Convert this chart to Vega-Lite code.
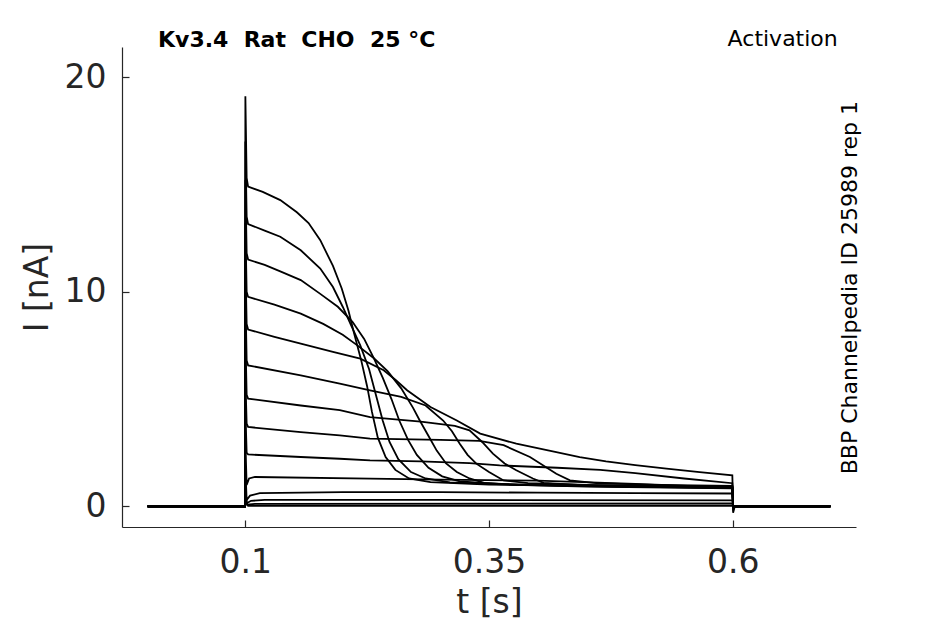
{
  "$schema": "https://vega.github.io/schema/vega-lite/v6.json",
  "width": 734,
  "height": 480,
  "autosize": {"type": "none"},
  "padding": {"left": 122, "top": 47, "right": 89, "bottom": 97},
  "background": "white",
  "config": {"view": {"stroke": null}, "font": "DejaVu Sans"},
  "title": {
    "text": "Kv3.4\u00a0\u00a0Rat\u00a0\u00a0CHO\u00a0\u00a025\u00a0°C",
    "anchor": "start",
    "frame": "group",
    "dx": 36,
    "dy": 43,
    "offset": 2,
    "fontSize": 22,
    "fontWeight": "bold",
    "font": "DejaVu Sans",
    "color": "black",
    "baseline": "alphabetic"
  },
  "layer": [
    {
      "data": {
        "values": [
          {"k": 1, "t": 0, "i": 0}, {"k": 1, "t": 0.0998, "i": 0}, {"k": 1, "t": 0.1002, "i": 19.1}, {"k": 1, "t": 0.1015, "i": 15.3},
          {"k": 1, "t": 0.103, "i": 14.9}, {"k": 1, "t": 0.118, "i": 14.65}, {"k": 1, "t": 0.136, "i": 14.27}, {"k": 1, "t": 0.153, "i": 13.7},
          {"k": 1, "t": 0.165, "i": 13.2}, {"k": 1, "t": 0.177, "i": 12.4}, {"k": 1, "t": 0.19, "i": 11.2}, {"k": 1, "t": 0.199, "i": 10.15},
          {"k": 1, "t": 0.206, "i": 9.1}, {"k": 1, "t": 0.212, "i": 8.0}, {"k": 1, "t": 0.219, "i": 6.8}, {"k": 1, "t": 0.225, "i": 5.6},
          {"k": 1, "t": 0.23, "i": 4.4}, {"k": 1, "t": 0.236, "i": 3.2}, {"k": 1, "t": 0.244, "i": 2.3}, {"k": 1, "t": 0.254, "i": 1.7},
          {"k": 1, "t": 0.268, "i": 1.3}, {"k": 1, "t": 0.29, "i": 1.13}, {"k": 1, "t": 0.35, "i": 1.02}, {"k": 1, "t": 0.45, "i": 0.95},
          {"k": 1, "t": 0.5995, "i": 0.88}, {"k": 1, "t": 0.6003, "i": -0.3}, {"k": 1, "t": 0.602, "i": 0}, {"k": 1, "t": 0.7, "i": 0},

          {"k": 2, "t": 0, "i": 0}, {"k": 2, "t": 0.0998, "i": 0}, {"k": 2, "t": 0.1002, "i": 17.0}, {"k": 2, "t": 0.1015, "i": 13.5},
          {"k": 2, "t": 0.103, "i": 13.15}, {"k": 2, "t": 0.12, "i": 12.85}, {"k": 2, "t": 0.136, "i": 12.56}, {"k": 2, "t": 0.157, "i": 11.93},
          {"k": 2, "t": 0.177, "i": 11.08}, {"k": 2, "t": 0.19, "i": 10.22}, {"k": 2, "t": 0.2, "i": 9.3}, {"k": 2, "t": 0.209, "i": 8.4},
          {"k": 2, "t": 0.218, "i": 7.5}, {"k": 2, "t": 0.227, "i": 6.4}, {"k": 2, "t": 0.234, "i": 5.2}, {"k": 2, "t": 0.241, "i": 4.0},
          {"k": 2, "t": 0.248, "i": 3.0}, {"k": 2, "t": 0.257, "i": 2.2}, {"k": 2, "t": 0.27, "i": 1.6}, {"k": 2, "t": 0.285, "i": 1.3},
          {"k": 2, "t": 0.31, "i": 1.12}, {"k": 2, "t": 0.38, "i": 1.0}, {"k": 2, "t": 0.5, "i": 0.92}, {"k": 2, "t": 0.5995, "i": 0.86},
          {"k": 2, "t": 0.6003, "i": -0.1}, {"k": 2, "t": 0.602, "i": 0}, {"k": 2, "t": 0.7, "i": 0},

          {"k": 3, "t": 0, "i": 0}, {"k": 3, "t": 0.0998, "i": 0}, {"k": 3, "t": 0.1002, "i": 15.2}, {"k": 3, "t": 0.1015, "i": 11.8},
          {"k": 3, "t": 0.103, "i": 11.5}, {"k": 3, "t": 0.12, "i": 11.25}, {"k": 3, "t": 0.136, "i": 10.95}, {"k": 3, "t": 0.157, "i": 10.54},
          {"k": 3, "t": 0.177, "i": 9.9}, {"k": 3, "t": 0.195, "i": 9.3}, {"k": 3, "t": 0.21, "i": 8.6}, {"k": 3, "t": 0.222, "i": 7.8},
          {"k": 3, "t": 0.232, "i": 6.9}, {"k": 3, "t": 0.241, "i": 6.0}, {"k": 3, "t": 0.25, "i": 5.0}, {"k": 3, "t": 0.258, "i": 4.0},
          {"k": 3, "t": 0.267, "i": 3.1}, {"k": 3, "t": 0.276, "i": 2.4}, {"k": 3, "t": 0.288, "i": 1.8}, {"k": 3, "t": 0.302, "i": 1.4},
          {"k": 3, "t": 0.32, "i": 1.17}, {"k": 3, "t": 0.36, "i": 1.05}, {"k": 3, "t": 0.45, "i": 0.95}, {"k": 3, "t": 0.5995, "i": 0.85},
          {"k": 3, "t": 0.6003, "i": 0}, {"k": 3, "t": 0.7, "i": 0},

          {"k": 4, "t": 0, "i": 0}, {"k": 4, "t": 0.0998, "i": 0}, {"k": 4, "t": 0.1002, "i": 13.2}, {"k": 4, "t": 0.1015, "i": 10.0},
          {"k": 4, "t": 0.103, "i": 9.76}, {"k": 4, "t": 0.13, "i": 9.4}, {"k": 4, "t": 0.157, "i": 8.98}, {"k": 4, "t": 0.18, "i": 8.5},
          {"k": 4, "t": 0.2, "i": 8.0}, {"k": 4, "t": 0.215, "i": 7.5}, {"k": 4, "t": 0.232, "i": 6.9}, {"k": 4, "t": 0.246, "i": 6.3},
          {"k": 4, "t": 0.26, "i": 5.5}, {"k": 4, "t": 0.272, "i": 4.6}, {"k": 4, "t": 0.279, "i": 4.0}, {"k": 4, "t": 0.289, "i": 3.2},
          {"k": 4, "t": 0.2964, "i": 2.6}, {"k": 4, "t": 0.306, "i": 2.0}, {"k": 4, "t": 0.317, "i": 1.6}, {"k": 4, "t": 0.33, "i": 1.3},
          {"k": 4, "t": 0.345, "i": 1.1}, {"k": 4, "t": 0.38, "i": 1.0}, {"k": 4, "t": 0.45, "i": 0.92}, {"k": 4, "t": 0.5995, "i": 0.84},
          {"k": 4, "t": 0.6003, "i": 0}, {"k": 4, "t": 0.7, "i": 0},

          {"k": 5, "t": 0, "i": 0}, {"k": 5, "t": 0.0998, "i": 0}, {"k": 5, "t": 0.1002, "i": 11.5}, {"k": 5, "t": 0.1015, "i": 8.5},
          {"k": 5, "t": 0.103, "i": 8.24}, {"k": 5, "t": 0.13, "i": 7.9}, {"k": 5, "t": 0.157, "i": 7.58}, {"k": 5, "t": 0.19, "i": 7.2},
          {"k": 5, "t": 0.218, "i": 6.88}, {"k": 5, "t": 0.242, "i": 6.34}, {"k": 5, "t": 0.254, "i": 5.9}, {"k": 5, "t": 0.266, "i": 5.41},
          {"k": 5, "t": 0.29, "i": 4.63}, {"k": 5, "t": 0.317, "i": 4.0}, {"k": 5, "t": 0.341, "i": 3.39}, {"k": 5, "t": 0.378, "i": 2.92},
          {"k": 5, "t": 0.419, "i": 2.53}, {"k": 5, "t": 0.443, "i": 2.3}, {"k": 5, "t": 0.47, "i": 2.1}, {"k": 5, "t": 0.5, "i": 1.92},
          {"k": 5, "t": 0.532, "i": 1.76}, {"k": 5, "t": 0.566, "i": 1.6}, {"k": 5, "t": 0.5995, "i": 1.45}, {"k": 5, "t": 0.6003, "i": 0},
          {"k": 5, "t": 0.7, "i": 0},

          {"k": 6, "t": 0, "i": 0}, {"k": 6, "t": 0.0998, "i": 0}, {"k": 6, "t": 0.1002, "i": 10.0}, {"k": 6, "t": 0.1015, "i": 6.8},
          {"k": 6, "t": 0.103, "i": 6.57}, {"k": 6, "t": 0.157, "i": 6.1}, {"k": 6, "t": 0.197, "i": 5.72}, {"k": 6, "t": 0.228, "i": 5.41},
          {"k": 6, "t": 0.26, "i": 5.1}, {"k": 6, "t": 0.285, "i": 4.7}, {"k": 6, "t": 0.303, "i": 4.0}, {"k": 6, "t": 0.312, "i": 3.5},
          {"k": 6, "t": 0.32, "i": 2.92}, {"k": 6, "t": 0.328, "i": 2.4}, {"k": 6, "t": 0.337, "i": 1.99}, {"k": 6, "t": 0.35, "i": 1.6},
          {"k": 6, "t": 0.365, "i": 1.21}, {"k": 6, "t": 0.39, "i": 1.08}, {"k": 6, "t": 0.45, "i": 1.0}, {"k": 6, "t": 0.5995, "i": 0.92},
          {"k": 6, "t": 0.6003, "i": 0}, {"k": 6, "t": 0.7, "i": 0},

          {"k": 7, "t": 0, "i": 0}, {"k": 7, "t": 0.0998, "i": 0}, {"k": 7, "t": 0.1002, "i": 8.0}, {"k": 7, "t": 0.1015, "i": 5.2},
          {"k": 7, "t": 0.103, "i": 5.02}, {"k": 7, "t": 0.157, "i": 4.7}, {"k": 7, "t": 0.197, "i": 4.48}, {"k": 7, "t": 0.228, "i": 4.16},
          {"k": 7, "t": 0.28, "i": 3.95}, {"k": 7, "t": 0.315, "i": 3.75}, {"k": 7, "t": 0.33, "i": 3.54}, {"k": 7, "t": 0.343, "i": 3.0},
          {"k": 7, "t": 0.354, "i": 2.46}, {"k": 7, "t": 0.366, "i": 2.0}, {"k": 7, "t": 0.378, "i": 1.68}, {"k": 7, "t": 0.395, "i": 1.3},
          {"k": 7, "t": 0.406, "i": 1.1}, {"k": 7, "t": 0.45, "i": 0.98}, {"k": 7, "t": 0.5995, "i": 0.92}, {"k": 7, "t": 0.6003, "i": 0},
          {"k": 7, "t": 0.7, "i": 0},

          {"k": 8, "t": 0, "i": 0}, {"k": 8, "t": 0.0998, "i": 0}, {"k": 8, "t": 0.1002, "i": 6.0}, {"k": 8, "t": 0.1015, "i": 3.85},
          {"k": 8, "t": 0.103, "i": 3.7}, {"k": 8, "t": 0.157, "i": 3.46}, {"k": 8, "t": 0.197, "i": 3.31}, {"k": 8, "t": 0.228, "i": 3.16},
          {"k": 8, "t": 0.3, "i": 3.1}, {"k": 8, "t": 0.34, "i": 3.05}, {"k": 8, "t": 0.365, "i": 2.85}, {"k": 8, "t": 0.392, "i": 2.3},
          {"k": 8, "t": 0.419, "i": 1.52}, {"k": 8, "t": 0.433, "i": 1.21}, {"k": 8, "t": 0.46, "i": 1.08}, {"k": 8, "t": 0.52, "i": 1.0},
          {"k": 8, "t": 0.5995, "i": 0.95}, {"k": 8, "t": 0.6003, "i": 0}, {"k": 8, "t": 0.7, "i": 0},

          {"k": 9, "t": 0, "i": 0}, {"k": 9, "t": 0.0998, "i": 0}, {"k": 9, "t": 0.1002, "i": 4.5}, {"k": 9, "t": 0.1015, "i": 2.5},
          {"k": 9, "t": 0.103, "i": 2.42}, {"k": 9, "t": 0.157, "i": 2.3}, {"k": 9, "t": 0.197, "i": 2.22}, {"k": 9, "t": 0.228, "i": 2.14},
          {"k": 9, "t": 0.28, "i": 2.1}, {"k": 9, "t": 0.33, "i": 2.02}, {"k": 9, "t": 0.361, "i": 1.91}, {"k": 9, "t": 0.42, "i": 1.8},
          {"k": 9, "t": 0.464, "i": 1.7}, {"k": 9, "t": 0.5, "i": 1.55}, {"k": 9, "t": 0.55, "i": 1.3}, {"k": 9, "t": 0.5995, "i": 1.08},
          {"k": 9, "t": 0.6003, "i": 0}, {"k": 9, "t": 0.7, "i": 0},

          {"k": 10, "t": 0, "i": 0}, {"k": 10, "t": 0.0998, "i": 0}, {"k": 10, "t": 0.1002, "i": 3.0}, {"k": 10, "t": 0.1015, "i": 1.0},
          {"k": 10, "t": 0.104, "i": 1.3}, {"k": 10, "t": 0.11, "i": 1.37}, {"k": 10, "t": 0.228, "i": 1.29}, {"k": 10, "t": 0.3, "i": 1.25},
          {"k": 10, "t": 0.4, "i": 1.2}, {"k": 10, "t": 0.5, "i": 1.05}, {"k": 10, "t": 0.5995, "i": 0.88}, {"k": 10, "t": 0.6003, "i": 0},
          {"k": 10, "t": 0.7, "i": 0},

          {"k": 11, "t": 0, "i": 0}, {"k": 11, "t": 0.0998, "i": 0}, {"k": 11, "t": 0.1002, "i": 1.8}, {"k": 11, "t": 0.1015, "i": 0.3},
          {"k": 11, "t": 0.105, "i": 0.5}, {"k": 11, "t": 0.115, "i": 0.62}, {"k": 11, "t": 0.2, "i": 0.66}, {"k": 11, "t": 0.3, "i": 0.66},
          {"k": 11, "t": 0.4, "i": 0.64}, {"k": 11, "t": 0.5, "i": 0.62}, {"k": 11, "t": 0.5995, "i": 0.6}, {"k": 11, "t": 0.6003, "i": 0},
          {"k": 11, "t": 0.7, "i": 0},

          {"k": 12, "t": 0, "i": 0}, {"k": 12, "t": 0.0998, "i": 0}, {"k": 12, "t": 0.1002, "i": 1.0}, {"k": 12, "t": 0.1015, "i": 0.15},
          {"k": 12, "t": 0.106, "i": 0.26}, {"k": 12, "t": 0.12, "i": 0.3}, {"k": 12, "t": 0.3, "i": 0.3}, {"k": 12, "t": 0.5995, "i": 0.28},
          {"k": 12, "t": 0.6003, "i": 0}, {"k": 12, "t": 0.7, "i": 0},

          {"k": 13, "t": 0, "i": 0}, {"k": 13, "t": 0.0998, "i": 0}, {"k": 13, "t": 0.1002, "i": 0.5}, {"k": 13, "t": 0.102, "i": 0.08},
          {"k": 13, "t": 0.11, "i": 0.12}, {"k": 13, "t": 0.5995, "i": 0.14}, {"k": 13, "t": 0.6003, "i": 0}, {"k": 13, "t": 0.7, "i": 0},

          {"k": 14, "t": 0, "i": 0}, {"k": 14, "t": 0.0998, "i": 0}, {"k": 14, "t": 0.1002, "i": 0.2}, {"k": 14, "t": 0.103, "i": 0.03},
          {"k": 14, "t": 0.5995, "i": 0.03}, {"k": 14, "t": 0.6003, "i": 0}, {"k": 14, "t": 0.7, "i": 0}
        ]
      },
      "mark": {"type": "line", "color": "black", "strokeWidth": 1.8, "clip": true},
      "encoding": {
        "x": {
          "field": "t",
          "type": "quantitative",
          "scale": {"domain": [-0.0263, 0.7263], "nice": false, "zero": false},
          "axis": {
            "title": "t [s]",
            "values": [0.1, 0.35, 0.6],
            "format": "~g",
            "grid": false,
            "domainColor": "#262626",
            "domainWidth": 1.2,
            "tickColor": "#262626",
            "tickWidth": 1.2,
            "tickSize": -7,
            "labelPadding": 26,
            "labelFontSize": 33,
            "labelFont": "DejaVu Sans",
            "labelColor": "#262626",
            "labelFlush": false,
            "titleFontSize": 33,
            "titleFont": "DejaVu Sans",
            "titleFontWeight": "normal",
            "titleColor": "#262626",
            "titlePadding": 7
          }
        },
        "y": {
          "field": "i",
          "type": "quantitative",
          "scale": {"domain": [-0.96, 21.4], "nice": false, "zero": false},
          "axis": {
            "title": "I [nA]",
            "values": [0, 10, 20],
            "grid": false,
            "domainColor": "#262626",
            "domainWidth": 1.2,
            "tickColor": "#262626",
            "tickWidth": 1.2,
            "tickSize": -7,
            "labelPadding": 23,
            "labelFontSize": 33,
            "labelFont": "DejaVu Sans",
            "labelColor": "#262626",
            "labelFlush": false,
            "titleFontSize": 33,
            "titleFont": "DejaVu Sans",
            "titleFontWeight": "normal",
            "titleColor": "#262626",
            "titlePadding": 10
          }
        },
        "detail": {"field": "k", "type": "nominal"},
        "order": {"field": "t", "type": "quantitative"}
      }
    },
    {
      "data": {"values": [{"label": "Activation", "t": 0.7076, "i": 21.45}]},
      "mark": {"type": "text", "align": "right", "baseline": "alphabetic", "fontSize": 22, "font": "DejaVu Sans", "color": "black"},
      "encoding": {
        "x": {"field": "t", "type": "quantitative"},
        "y": {"field": "i", "type": "quantitative"},
        "text": {"field": "label", "type": "nominal"}
      }
    },
    {
      "data": {"values": [{"label": "BBP Channelpedia ID 25989 rep 1", "t": 0.727, "i": 10.19}]},
      "mark": {"type": "text", "angle": 270, "align": "center", "baseline": "alphabetic", "fontSize": 22, "font": "DejaVu Sans", "color": "black"},
      "encoding": {
        "x": {"field": "t", "type": "quantitative"},
        "y": {"field": "i", "type": "quantitative"},
        "text": {"field": "label", "type": "nominal"}
      }
    }
  ]
}
